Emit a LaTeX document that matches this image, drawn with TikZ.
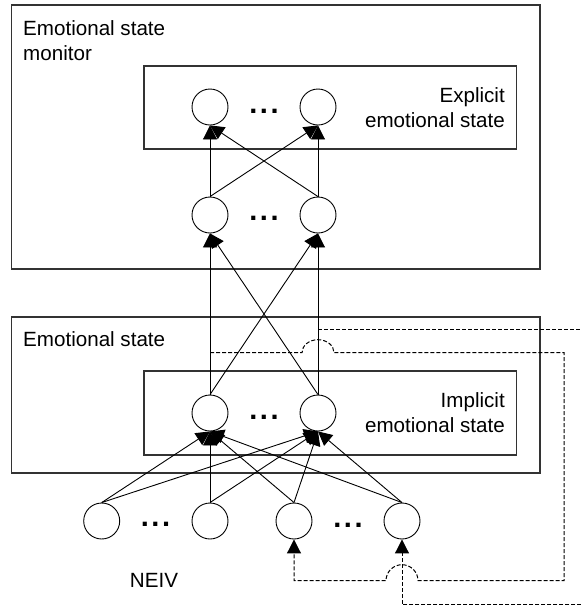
\documentclass[tikz,border=0pt]{standalone}
\usepackage{fontspec}
\setmainfont{Liberation Sans}
\usetikzlibrary{arrows.meta}
\begin{document}
\begin{tikzpicture}[x=1pt,y=-1pt,
  neuron/.style={circle,draw,line width=0.9pt,minimum size=36pt,inner sep=0pt},
  group/.style={draw=black!80,line width=1.1pt},
  tipA/.tip={Triangle[length=14pt,width=14pt]},
  conn/.style={line width=0.9pt,-tipA},
  fb/.style={line width=1pt,dash pattern=on 4pt off 2pt,-tipA},
  lbl/.style={font=\fontsize{20.6}{25}\selectfont,inner sep=0pt},
  ellip/.style={font=\fontsize{29}{29}\selectfont\bfseries,inner sep=0pt}]
\useasboundingbox (0,0) rectangle (581,606);
\fill[white] (0,0) rectangle (581,606);
% group boxes
\draw[group] (11.7,5) rectangle (540,269);
\draw[group] (144,66) rectangle (516.7,149);
\draw[group] (11.7,317) rectangle (540,473);
\draw[group] (144,371) rectangle (516.7,455);
% labels
\node[lbl,anchor=north west,align=left] (tmon) at (23,20.3) {Emotional state\\monitor};
\node[lbl,anchor=north east,align=right] (texp) at (505,87) {Explicit\\emotional state};
\node[lbl,anchor=base west] (tes) at (23,346.7) {Emotional state};
\node[lbl,anchor=north east,align=right] (timp) at (505,392.3) {Implicit\\emotional state};
\node[lbl,anchor=base] (tneiv) at (154,587) {NEIV};
% neurons
\node[neuron] (e1) at (210,107) {};
\node[neuron] (e2) at (318,107) {};
\node[neuron] (m1) at (210,215) {};
\node[neuron] (m2) at (318,215) {};
\node[neuron] (i1) at (210,413) {};
\node[neuron] (i2) at (318,413) {};
\node[neuron] (b1) at (101.7,521) {};
\node[neuron] (b2) at (210,521) {};
\node[neuron] (b3) at (294,521) {};
\node[neuron] (b4) at (402,521) {};
% ellipses
\node[ellip] (d1) at (264,111) {.\kern2.5pt.\kern2.5pt.};
\node[ellip] (d2) at (264,218.5) {.\kern2.5pt.\kern2.5pt.};
\node[ellip] (d3) at (264,417) {.\kern2.5pt.\kern2.5pt.};
\node[ellip] (d4) at (155.5,524.5) {.\kern2.5pt.\kern2.5pt.};
\node[ellip] (d5) at (348,525) {.\kern2.5pt.\kern2.5pt.};
% connections
\foreach \s in {m1,m2} \foreach \t in {e1,e2} \draw[conn] (\s.north) -- (\t.south);
\foreach \s in {i1,i2} \foreach \t in {m1,m2} \draw[conn] (\s.north) -- (\t.south);
\foreach \s in {b1,b2,b3,b4} \foreach \t in {i1,i2} \draw[conn] (\s.north) -- (\t.south);
% feedback
\coordinate (tapA) at (318,329);
\coordinate (tapB) at (210,352.7);
\draw[fb] (tapA) -- (588,329) -- (588,604.3) -- (402,604.3) -- (b4.south);
\draw[fb] (tapB) -- (302,352.7) arc[start angle=180,end angle=360,x radius=16,y radius=13]
  -- (564,352.7) -- (564,580.7) -- (418,580.7) arc[start angle=0,end angle=-180,radius=16]
  -- (294,580.7) -- (b3.south);
\end{tikzpicture}
\end{document}
